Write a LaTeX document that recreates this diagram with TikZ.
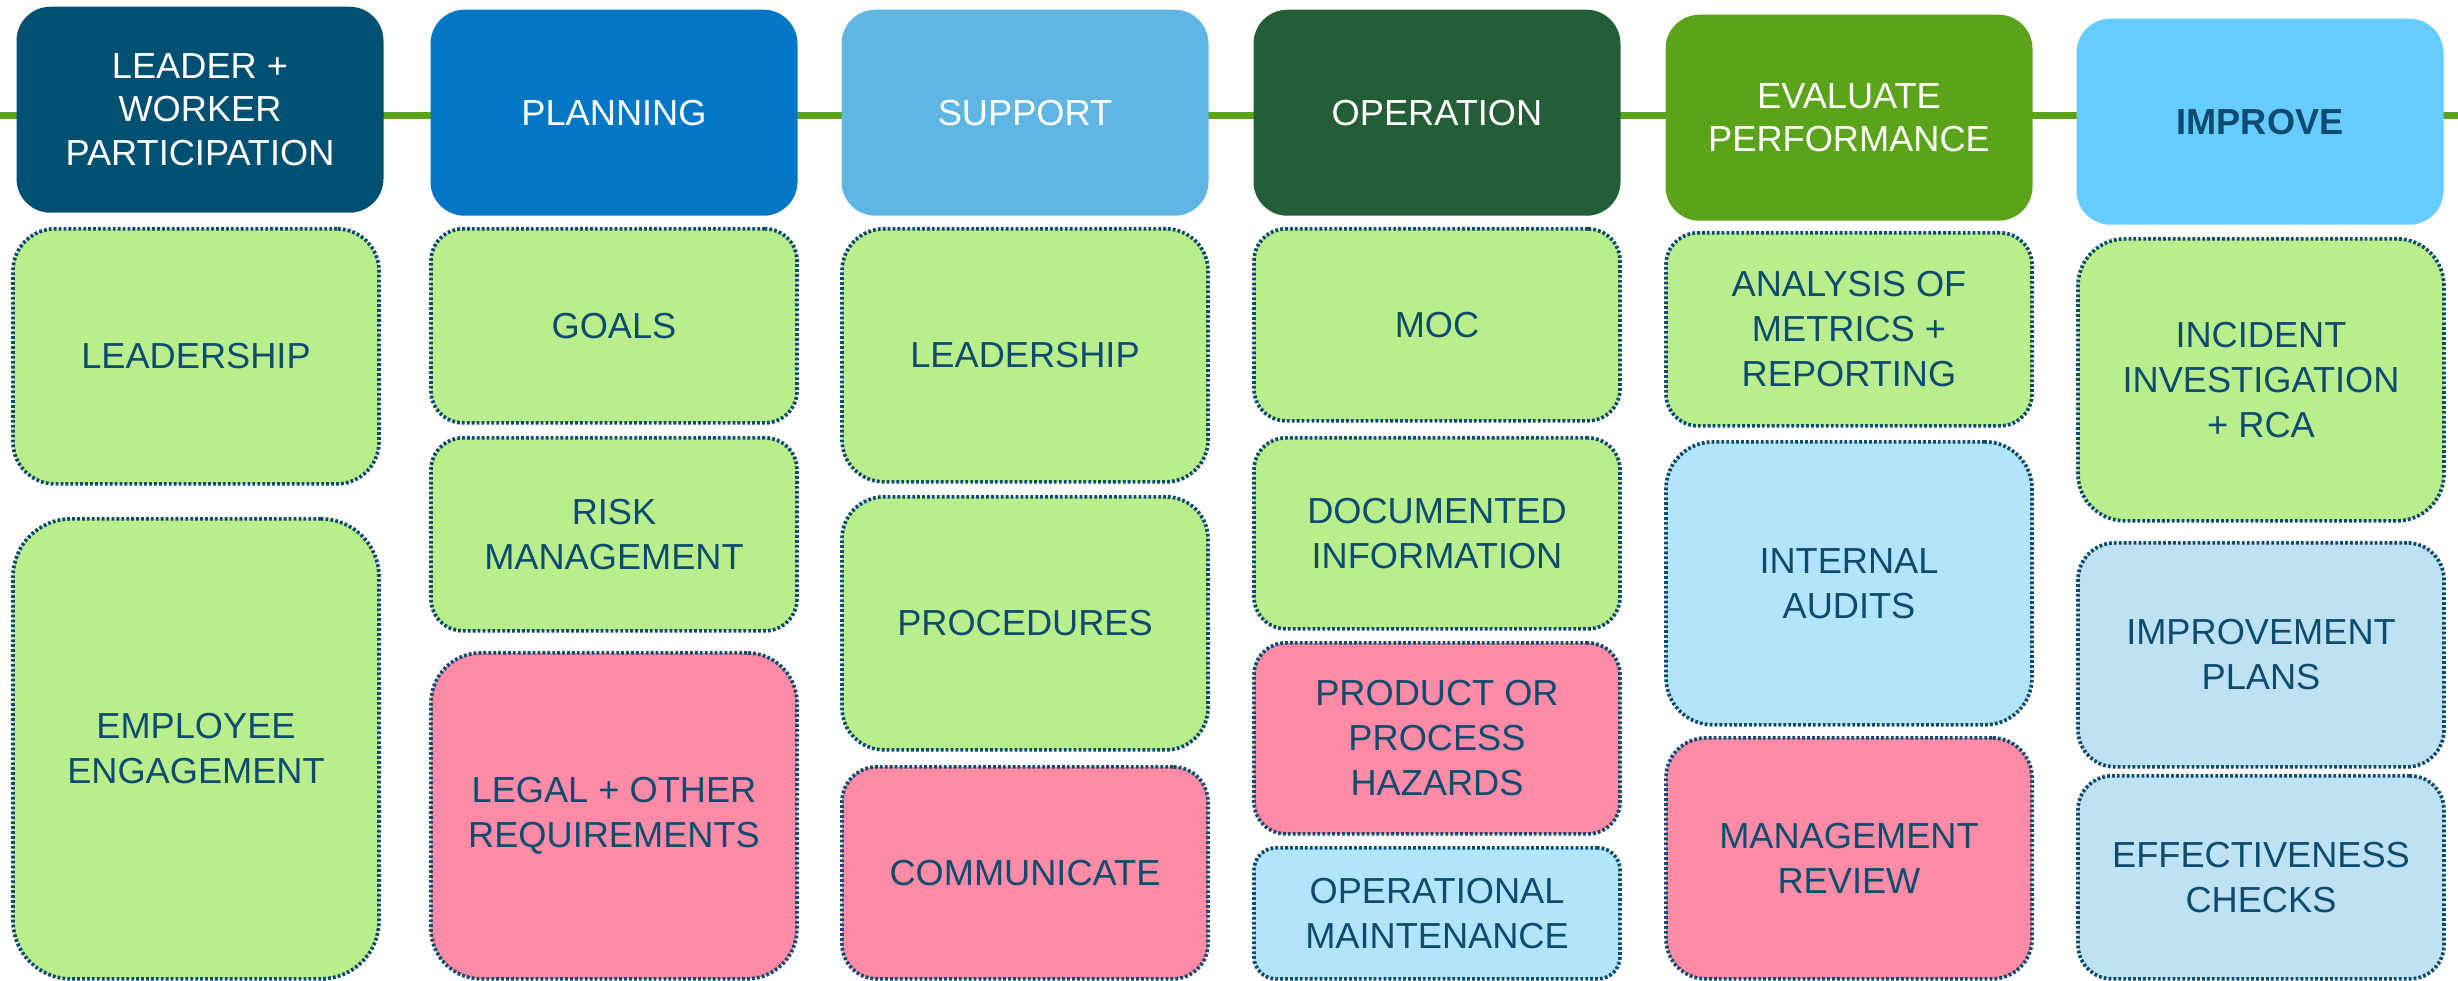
\documentclass[tikz,border=0pt]{standalone}
\usepackage{fontspec}
\setmainfont{Liberation Sans}
\definecolor{lead}{HTML}{015072}
\definecolor{plan}{HTML}{0277C6}
\definecolor{supp}{HTML}{5FB6E3}
\definecolor{oper}{HTML}{245E36}
\definecolor{eval}{HTML}{5BA31A}
\definecolor{impr}{HTML}{66CCFF}
\definecolor{bargreen}{HTML}{5BA31A}
\definecolor{rim}{HTML}{0D4C6E}
\definecolor{igreen}{HTML}{BAEE8D}
\definecolor{ipink}{HTML}{FF8BA6}
\definecolor{isky}{HTML}{B2E5FC}
\definecolor{ipale}{HTML}{BFE1F4}
\begin{document}
\begin{tikzpicture}[
  head/.style={rounded corners=0.34cm, minimum width=3.67cm, minimum height=2.06cm,
    anchor=north, align=center, text=white, font=\fontsize{10.3}{12.3}\selectfont},
  item/.style={rounded corners=#1, draw=rim, line width=1.05pt,
    dash pattern=on 0.8pt off 0.6pt, minimum width=3.66cm, anchor=north,
    align=center, text=rim, font=\fontsize{10.3}{12.8}\selectfont},
  item/.default=0.32cm,
  bar/.style={draw=bargreen, line width=2pt}]
  \useasboundingbox (0,0) rectangle (24.58,-9.80);
  \coordinate (barL) at (0,-1.15);
  \coordinate (barR) at (24.58,-1.15);
  \draw[bar] (barL) -- (barR);

  \node[head, fill=lead] (lead) at (2.00,-0.06) {LEADER +\\WORKER\\PARTICIPATION};
  \node[head, fill=plan] (plan) at (6.14,-0.09) {PLANNING};
  \node[head, fill=supp] (supp) at (10.25,-0.09) {SUPPORT};
  \node[head, fill=oper] (oper) at (14.37,-0.09) {OPERATION};
  \node[head, fill=eval] (eval) at (18.49,-0.14) {EVALUATE\\PERFORMANCE};
  \node[head, fill=impr, text=rim, font=\fontsize{10.3}{12.3}\selectfont\bfseries] (impr) at (22.60,-0.18) {IMPROVE};

  \node[item=0.42cm, fill=igreen, minimum height=2.55cm] (leadA) at (1.96,-2.27) {LEADERSHIP};
  \node[item=0.58cm, fill=igreen, minimum height=4.60cm] (engage) at (1.96,-5.17) {EMPLOYEE\\ENGAGEMENT};

  \node[item, fill=igreen, minimum height=1.94cm] (goals) at (6.14,-2.27) {GOALS};
  \node[item, fill=igreen, minimum height=1.93cm] (risk) at (6.14,-4.36) {RISK\\MANAGEMENT};
  \node[item=0.5cm, fill=ipink, minimum height=3.26cm] (legal) at (6.14,-6.51) {LEGAL + OTHER\\REQUIREMENTS};

  \node[item=0.42cm, fill=igreen, minimum height=2.53cm] (leadB) at (10.25,-2.27) {LEADERSHIP};
  \node[item=0.42cm, fill=igreen, minimum height=2.53cm] (proc) at (10.25,-4.95) {PROCEDURES};
  \node[item=0.35cm, fill=ipink, minimum height=2.12cm] (comm) at (10.25,-7.65) {COMMUNICATE};

  \node[item, fill=igreen, minimum height=1.92cm] (moc) at (14.37,-2.27) {MOC};
  \node[item, fill=igreen, minimum height=1.91cm] (docs) at (14.37,-4.36) {DOCUMENTED\\INFORMATION};
  \node[item, fill=ipink, minimum height=1.91cm] (hazards) at (14.37,-6.41) {PRODUCT OR\\PROCESS\\HAZARDS};
  \node[item=0.22cm, fill=isky, minimum height=1.31cm] (maint) at (14.37,-8.46) {OPERATIONAL\\MAINTENANCE};

  \node[item, fill=igreen, minimum height=1.93cm] (metrics) at (18.49,-2.31) {ANALYSIS OF\\METRICS +\\REPORTING};
  \node[item=0.47cm, fill=isky, minimum height=2.83cm] (audits) at (18.49,-4.40) {INTERNAL\\AUDITS};
  \node[item=0.4cm, fill=ipink, minimum height=2.41cm] (review) at (18.49,-7.36) {MANAGEMENT\\REVIEW};

  \node[item=0.47cm, fill=igreen, minimum height=2.82cm] (incident) at (22.61,-2.37) {INCIDENT\\INVESTIGATION\\+ RCA};
  \node[item=0.37cm, fill=ipale, minimum height=2.24cm] (plans) at (22.61,-5.41) {IMPROVEMENT\\PLANS};
  \node[item=0.34cm, fill=ipale, minimum height=2.03cm] (checks) at (22.61,-7.74) {EFFECTIVENESS\\CHECKS};
\end{tikzpicture}
\end{document}
